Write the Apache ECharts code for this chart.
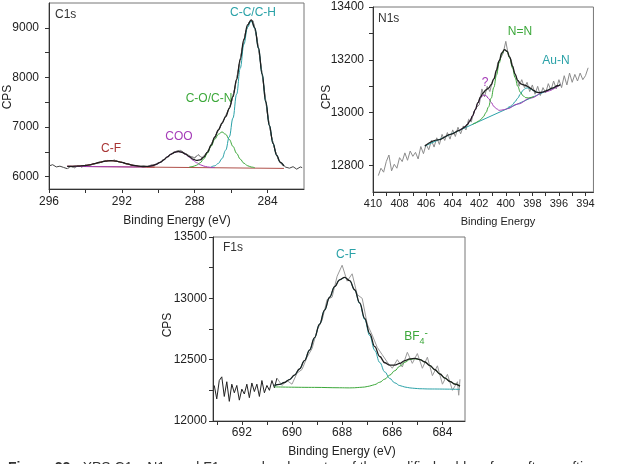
<!DOCTYPE html>
<html>
<head>
<meta charset="utf-8">
<script src="https://cdn.jsdelivr.net/npm/echarts@6/dist/echarts.min.js"></script>
<style>
html, body { margin: 0; padding: 0; background: #fff; }
#main { width: 626px; height: 464px; }
</style>
</head>
<body>
<div id="main"></div>
<script>
// ---- C1s ----
var c1sRaw = [[296.0,6215],[295.8,6240],[295.6,6195],[295.4,6210],[295.2,6185],[295.0,6160],[294.8,6205],[294.6,6180],[294.4,6220],[294.2,6195],[294.0,6230],[293.8,6215],[293.6,6250],[293.4,6265],[293.2,6280],[293.0,6310],[292.8,6325],[292.6,6318],[292.4,6330],[292.2,6300],[292.0,6290],[291.8,6262],[291.6,6250],[291.4,6225],[291.2,6215],[291.0,6205],[290.8,6210],[290.6,6200],[290.4,6230],[290.2,6240],[290.0,6275],[289.8,6300],[289.6,6370],[289.4,6430],[289.2,6470],[289.0,6510],[288.8,6530],[288.6,6480],[288.4,6440],[288.2,6400],[288.0,6380],[287.8,6440],[287.6,6380],[287.4,6450],[287.2,6560],[287.0,6720],[286.8,6870],[286.6,7000],[286.4,7150],[286.2,7300],[286.0,7480],[285.8,7780],[285.6,8160],[285.4,8570],[285.2,8920],[285.0,9120],[284.8,9140],[284.6,8820],[284.4,8340],[284.2,7800],[284.0,7250],[283.8,6830],[283.6,6540],[283.4,6340],[283.2,6240],[283.0,6190],[282.8,6170],[282.6,6200],[282.4,6150],[282.2,6195],[282.1,6180]];
var c1sEnvelope = [[295.0,6208],[294.7,6208],[294.4,6212],[294.1,6220],[293.8,6237],[293.5,6261],[293.2,6290],[292.9,6313],[292.6,6321],[292.3,6312],[292.0,6287],[291.7,6256],[291.4,6229],[291.1,6211],[290.8,6204],[290.5,6208],[290.3,6223],[290.1,6248],[289.9,6287],[289.7,6338],[289.5,6397],[289.3,6452],[289.1,6491],[288.9,6506],[288.7,6491],[288.5,6452],[288.3,6401],[288.1,6354],[287.9,6327],[287.7,6337],[287.5,6392],[287.3,6495],[287.1,6635],[286.9,6794],[286.7,6943],[286.5,7079],[286.3,7209],[286.1,7375],[285.9,7614],[285.7,7955],[285.5,8362],[285.3,8764],[285.1,9060],[284.9,9158],[284.7,8999],[284.5,8593],[284.3,8070],[284.1,7509],[283.9,7028],[283.7,6668],[283.5,6427],[283.3,6286],[283.1,6215]];
var c1sBackground = [[295.0,6207],[283.1,6165]];
var c1sCF = [[295.0,6208],[294.7,6208],[294.4,6212],[294.1,6220],[293.8,6237],[293.5,6261],[293.2,6290],[292.9,6313],[292.6,6321],[292.3,6311],[292.0,6286],[291.7,6255],[291.4,6228],[291.1,6209],[290.8,6199],[290.5,6193],[290.2,6191]];
var c1sCOO = [[295.0,6207],[292.6,6199],[291.4,6194],[290.9,6196],[290.7,6199],[290.5,6206],[290.3,6222],[290.1,6248],[289.9,6287],[289.7,6338],[289.5,6397],[289.3,6452],[289.1,6491],[288.9,6506],[288.7,6490],[288.5,6449],[288.3,6393],[288.1,6333],[287.9,6280],[287.7,6240],[287.5,6212],[287.3,6195],[287.1,6186],[286.9,6182]];
var c1sCOCN = [[288.3,6192],[288.1,6204],[287.9,6229],[287.7,6279],[287.5,6359],[287.3,6474],[287.1,6613],[286.9,6752],[286.7,6854],[286.5,6900],[286.3,6853],[286.1,6749],[285.9,6609],[285.7,6469],[285.5,6352],[285.3,6270],[285.1,6220],[284.9,6193],[284.7,6179]];
var c1sCCCH = [[287.1,6194],[286.9,6218],[286.7,6267],[286.5,6364],[286.3,6533],[286.1,6802],[285.9,7180],[285.7,7660],[285.5,8184],[285.3,8667],[285.1,9013],[284.9,9137],[284.7,8991],[284.5,8590],[284.3,8070],[284.1,7509],[283.9,7028],[283.7,6668],[283.5,6427],[283.3,6286],[283.1,6215]];
var c1sXLabels = [296, 292, 288, 284];
var c1sXTicks = [296, 294, 292, 290, 288, 286, 284];
var c1sYLabels = [6000, 7000, 8000, 9000];
var c1sYTicks = [6000, 6500, 7000, 7500, 8000, 8500, 9000];

// ---- N1s ----
var n1sRaw = [[409.6,12762],[409.4,12790],[409.2,12775],[409.0,12815],[408.8,12840],[408.6,12780],[408.4,12805],[408.2,12790],[408.0,12830],[407.8,12815],[407.6,12848],[407.4,12820],[407.2,12855],[407.0,12835],[406.8,12850],[406.6,12825],[406.4,12872],[406.2,12845],[406.0,12880],[405.8,12860],[405.6,12895],[405.4,12870],[405.2,12905],[405.0,12880],[404.8,12918],[404.6,12895],[404.4,12925],[404.2,12900],[404.0,12935],[403.8,12910],[403.6,12945],[403.4,12920],[403.2,12950],[403.0,12935],[402.8,12975],[402.6,12965],[402.4,13005],[402.2,13020],[402.0,13030],[401.8,13090],[401.6,13060],[401.4,13100],[401.2,13080],[401.0,13120],[400.8,13135],[400.6,13190],[400.4,13205],[400.2,13225],[400.0,13270],[399.8,13215],[399.6,13200],[399.4,13160],[399.2,13135],[399.0,13100],[398.8,13125],[398.6,13095],[398.4,13115],[398.2,13080],[398.0,13105],[397.8,13070],[397.6,13100],[397.4,13065],[397.2,13095],[397.0,13075],[396.8,13110],[396.6,13085],[396.4,13120],[396.2,13090],[396.0,13125],[395.8,13095],[395.6,13140],[395.4,13105],[395.2,13150],[395.0,13115],[394.8,13145],[394.6,13120],[394.4,13150],[394.2,13125],[394.0,13140],[393.8,13170]];
var n1sEnvelope = [[406.1,12874],[405.1,12897],[404.1,12919],[403.5,12933],[403.3,12939],[403.1,12946],[402.9,12955],[402.7,12969],[402.5,12988],[402.3,13012],[402.1,13038],[401.9,13060],[401.7,13076],[401.5,13086],[401.3,13093],[401.1,13106],[400.9,13128],[400.7,13161],[400.5,13196],[400.3,13226],[400.1,13239],[399.9,13232],[399.7,13210],[399.5,13176],[399.3,13146],[399.1,13122],[398.9,13110],[398.7,13106],[398.5,13103],[398.3,13098],[398.1,13091],[397.9,13084],[397.7,13078],[397.5,13076],[397.3,13077],[397.1,13080],[396.9,13084],[396.5,13093],[396.1,13102],[395.9,13106]];
var n1sBackground = [[406.1,12874],[395.9,13106]];
var n1sUnknown = [[403.5,12933],[403.3,12939],[403.1,12946],[402.9,12955],[402.7,12969],[402.5,12988],[402.3,13011],[402.1,13036],[401.9,13056],[401.7,13066],[401.5,13065],[401.3,13054],[401.1,13039],[400.9,13024],[400.7,13015],[400.5,13009],[400.3,13010],[400.1,13012],[399.9,13015],[399.1,13033],[398.1,13056],[397.1,13079],[395.9,13106]];
var n1sNN = [[402.5,12956],[402.3,12961],[402.1,12967],[401.9,12974],[401.7,12984],[401.5,13000],[401.3,13022],[401.1,13055],[400.9,13096],[400.7,13143],[400.5,13188],[400.3,13222],[400.1,13238],[399.9,13231],[399.7,13207],[399.5,13170],[399.3,13133],[399.1,13100],[398.9,13077],[398.7,13064],[398.5,13057],[398.3,13056],[398.1,13058],[397.9,13062]];
var n1sAuN = [[399.9,13016],[399.7,13023],[399.5,13030],[399.3,13042],[399.1,13055],[398.9,13071],[398.7,13085],[398.5,13093],[398.3,13094],[398.1,13089],[397.9,13083],[397.7,13078],[397.5,13076],[397.3,13077],[397.1,13080]];
var n1sXLabels = [410, 408, 406, 404, 402, 400, 398, 396, 394];
var n1sXTicks = [410, 409, 408, 407, 406, 405, 404, 403, 402, 401, 400, 399, 398, 397, 396, 395, 394];
var n1sYLabels = [12800, 13000, 13200, 13400];
var n1sYTicks = [12800, 12900, 13000, 13100, 13200, 13300, 13400];

// ---- F1s ----
var f1sRawLeft = [[693.1,12290],[693.0,12180],[692.9,12330],[692.8,12360],[692.7,12200],[692.6,12320],[692.5,12160],[692.4,12300],[692.3,12230],[692.2,12290],[692.1,12170],[692.0,12260],[691.9,12220],[691.8,12300],[691.7,12190],[691.6,12310],[691.5,12240],[691.4,12300],[691.3,12200],[691.2,12330],[691.1,12230],[691.0,12290],[690.9,12250],[690.8,12330],[690.7,12270],[690.6,12350]];
var f1sRaw = [[690.6,12350],[690.4,12290],[690.2,12330],[690.0,12300],[689.8,12390],[689.6,12420],[689.4,12520],[689.2,12590],[689.0,12740],[688.8,12820],[688.6,12990],[688.4,13010],[688.2,13180],[688.0,13270],[687.8,13140],[687.6,13200],[687.4,13030],[687.2,13000],[687.0,12790],[686.8,12700],[686.6,12600],[686.4,12540],[686.2,12480],[686.0,12430],[685.8,12500],[685.6,12440],[685.4,12560],[685.2,12470],[685.0,12550],[684.8,12430],[684.6,12520],[684.4,12370],[684.2,12450],[684.0,12300],[683.8,12380],[683.6,12250],[683.4,12320],[683.35,12210],[683.3,12340]];
var f1sEnvelope = [[690.7,12290],[690.5,12298],[690.3,12314],[690.1,12338],[689.9,12374],[689.7,12424],[689.5,12493],[689.3,12578],[689.1,12679],[688.9,12790],[688.7,12904],[688.5,13009],[688.3,13096],[688.1,13151],[687.9,13171],[687.7,13144],[687.5,13070],[687.3,12963],[687.1,12836],[686.9,12713],[686.7,12606],[686.5,12526],[686.3,12475],[686.1,12455],[685.9,12456],[685.7,12470],[685.5,12492],[685.3,12506],[685.1,12511],[684.9,12501],[684.7,12481],[684.5,12452],[684.3,12418],[684.1,12383],[683.9,12350],[683.7,12322],[683.5,12300],[683.3,12284]];
var f1sCF = [[690.7,12290],[690.5,12298],[690.3,12314],[690.1,12338],[689.9,12374],[689.7,12424],[689.5,12493],[689.3,12578],[689.1,12679],[688.9,12790],[688.7,12904],[688.5,13009],[688.3,13096],[688.1,13151],[687.9,13170],[687.7,13144],[687.5,13068],[687.3,12958],[687.1,12827],[686.9,12696],[686.7,12576],[686.5,12477],[686.3,12400],[686.1,12347],[685.9,12311],[685.7,12289],[685.5,12277],[685.3,12270],[685.1,12266],[684.9,12263],[684.5,12261],[683.3,12258]];
var f1sBF4 = [[690.7,12278],[689.1,12274],[688.1,12271],[687.7,12270],[687.5,12271],[687.3,12274],[687.1,12277],[686.9,12285],[686.7,12297],[686.5,12316],[686.3,12341],[686.1,12374],[685.9,12410],[685.7,12447],[685.5,12479],[685.3,12501],[685.1,12508],[684.9,12500],[684.7,12481],[684.5,12452],[684.3,12418],[684.1,12383],[683.9,12350],[683.7,12322],[683.5,12301],[683.3,12284]];
var f1sXLabels = [692, 690, 688, 686, 684];
var f1sXTicks = [693, 692, 691, 690, 689, 688, 687, 686, 685, 684];
var f1sYLabels = [12000, 12500, 13000, 13500];
var f1sYTicks = [12000, 12250, 12500, 12750, 13000, 13250, 13500];

var FONT = 'Liberation Sans, Arial, sans-serif';
var TEAL = '#2ba2a8', GREEN = '#3ca83a', PURPLE = '#a53cb8', DARKRED = '#a83434';

var chart = echarts.init(document.getElementById('main'));

function plain(v) {
    return String(v);
}
function xAx(grid, min, max, labels, ticks, fs, margin) {
    return {
        gridIndex: grid, type: 'value', min: min, max: max, inverse: true,
        axisLine: {show: true, onZero: false, lineStyle: {color: '#333', width: 1}},
        axisTick: {show: true, length: 4, customValues: ticks, lineStyle: {color: '#333'}},
        axisLabel: {customValues: labels, formatter: plain, fontSize: fs, color: '#222', margin: margin, fontFamily: FONT},
        splitLine: {show: false}
    };
}
function yAx(grid, min, max, labels, ticks, fs, margin) {
    return {
        gridIndex: grid, type: 'value', min: min, max: max,
        axisLine: {show: true, onZero: false, lineStyle: {color: '#333', width: 1}},
        axisTick: {show: true, length: 4, customValues: ticks, lineStyle: {color: '#333'}},
        axisLabel: {customValues: labels, formatter: plain, fontSize: fs, color: '#222', margin: margin, fontFamily: FONT},
        splitLine: {show: false}
    };
}
function ln(idx, data, color, width, smooth, z) {
    return {
        type: 'line', xAxisIndex: idx, yAxisIndex: idx, data: data,
        showSymbol: false, symbol: 'none', smooth: smooth ? 0.4 : false, smoothMonotone: 'x',
        lineStyle: {color: color, width: width}, z: z, silent: true, animation: false
    };
}
function txt(x, y, text, color, size, extra) {
    var el = {
        type: 'text', x: x, y: y, silent: true,
        style: {text: text, fill: color, font: size + 'px ' + FONT, align: 'center', verticalAlign: 'middle'}
    };
    if (extra) Object.assign(el.style, extra);
    return el;
}

var c1sMid = c1sRaw.filter(function (p) { return p[0] <= 295.0 && p[0] >= 283.0; });

var option = {
    backgroundColor: '#fff',
    animation: false,
    grid: [
        {left: 49, top: 3, width: 255, height: 186, show: true, borderColor: '#777', borderWidth: 1},
        {left: 373, top: 7, width: 251, height: 185, show: true, borderColor: '#777', borderWidth: 1},
        {left: 213, top: 237, width: 252, height: 184, show: true, borderColor: '#777', borderWidth: 1}
    ],
    xAxis: [
        xAx(0, 282, 296, c1sXLabels, c1sXTicks, 12, 7),
        xAx(1, 393.4, 410, n1sXLabels, n1sXTicks, 11, 6),
        xAx(2, 683.1, 693.15, f1sXLabels, f1sXTicks, 12, 6)
    ],
    yAxis: [
        yAx(0, 5750, 9500, c1sYLabels, c1sYTicks, 12, 10),
        yAx(1, 12700, 13400, n1sYLabels, n1sYTicks, 12, 9),
        yAx(2, 12000, 13500, f1sYLabels, f1sYTicks, 12, 6)
    ],
    series: [
        ln(0, c1sRaw, '#444', 1, false, 1),
        ln(0, c1sMid, '#a0a0a0', 1, false, 2),
        ln(0, c1sBackground, '#b0504a', 1, false, 3),
        ln(0, c1sCF, DARKRED, 1, true, 4),
        ln(0, c1sCOO, PURPLE, 1, true, 5),
        ln(0, c1sCOCN, GREEN, 1, true, 6),
        ln(0, c1sCCCH, TEAL, 1, true, 7),
        ln(0, c1sEnvelope, '#1e1e1e', 1.3, true, 8),

        ln(1, n1sRaw, '#8c8c8c', 1, false, 1),
        ln(1, n1sBackground, TEAL, 1, false, 3),
        ln(1, n1sUnknown, PURPLE, 1, true, 4),
        ln(1, n1sNN, GREEN, 1, true, 5),
        ln(1, n1sAuN, TEAL, 1, true, 6),
        ln(1, n1sEnvelope, '#1e1e1e', 1.3, true, 8),

        ln(2, f1sRawLeft, '#222', 1, false, 1),
        ln(2, f1sRaw, '#9a9a9a', 1, false, 2),
        ln(2, f1sBF4, GREEN, 1, true, 4),
        ln(2, f1sCF, TEAL, 1, true, 5),
        ln(2, f1sEnvelope, '#1e1e1e', 1.3, true, 8)
    ],
    graphic: [
        // panel names
        txt(55, 15, 'C1s', '#333', 12, {align: 'left'}),
        txt(378, 19, 'N1s', '#333', 12, {align: 'left'}),
        txt(223, 248, 'F1s', '#333', 12, {align: 'left'}),
        // axis titles
        txt(8, 97, 'CPS', '#222', 12, {}),
        txt(327, 97, 'CPS', '#222', 12, {}),
        txt(168, 325, 'CPS', '#222', 12, {}),
        txt(177, 221, 'Binding Energy (eV)', '#222', 12),
        txt(498, 222, 'Binding Energy', '#222', 11),
        txt(342, 452, 'Binding Energy (eV)', '#222', 12),
        // peak labels
        txt(253, 13, 'C-C/C-H', TEAL, 12),
        txt(209, 99, 'C-O/C-N', GREEN, 12),
        txt(179, 137, 'COO', PURPLE, 12),
        txt(111, 149, 'C-F', DARKRED, 12),
        txt(520, 32, 'N=N', GREEN, 12),
        txt(556, 61, 'Au-N', TEAL, 12),
        txt(485, 83, '?', PURPLE, 12),
        txt(346, 255, 'C-F', TEAL, 12),
        {
            type: 'text', x: 416, y: 337, silent: true,
            style: {
                text: '{b|BF}{s|4}{p|-}', fill: GREEN, align: 'center', verticalAlign: 'middle',
                rich: {
                    b: {fontSize: 12, fontFamily: FONT, fill: GREEN, lineHeight: 18, verticalAlign: 'middle'},
                    s: {fontSize: 9, fontFamily: FONT, fill: GREEN, lineHeight: 18, verticalAlign: 'bottom'},
                    p: {fontSize: 10, fontFamily: FONT, fill: GREEN, lineHeight: 18, verticalAlign: 'top'}
                }
            }
        },
        // caption, cut off at the bottom edge like the source page
        {
            type: 'text', x: 8, y: 461, silent: true,
            style: {
                text: '{b|Figure 22:}  XPS C1s, N1s and F1s core level spectra of the modified gold surface after grafting',
                fill: '#333', font: '14px ' + FONT, verticalAlign: 'top',
                rich: {b: {fontWeight: 'bold', fontSize: 14, fontFamily: FONT, fill: '#333'}}
            }
        }
    ]
};
// CPS titles are vertical
option.graphic[3].rotation = Math.PI / 2;
option.graphic[4].rotation = Math.PI / 2;
option.graphic[5].rotation = Math.PI / 2;

chart.setOption(option);
</script>
</body>
</html>
